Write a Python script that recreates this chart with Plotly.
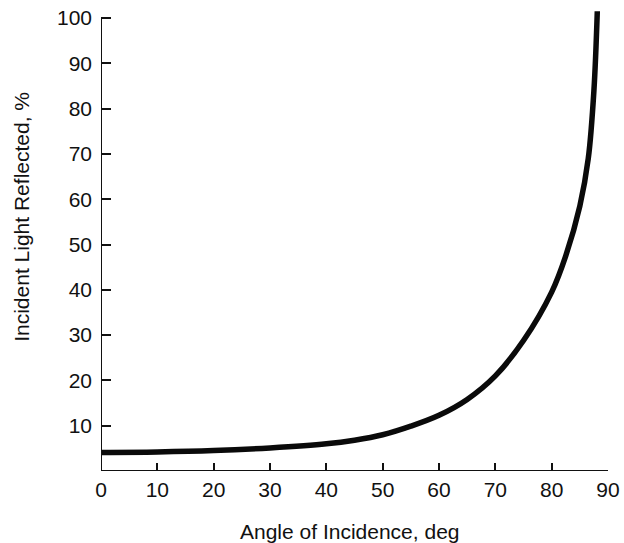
import plotly.graph_objects as go

# Data
angle_deg = [0, 10, 20, 30, 40, 45, 50, 55, 60, 65, 70, 75, 80, 82.5, 85, 86.5, 87.5, 88.1]
reflected_pct = [4.1, 4.2, 4.5, 5.1, 6.0, 6.8, 8.0, 9.9, 12.3, 15.8, 21.0, 28.8, 39.5, 47.5, 58.5, 69.0, 84.0, 101.5]

x_ticks = [0, 10, 20, 30, 40, 50, 60, 70, 80, 90]
y_ticks = [10, 20, 30, 40, 50, 60, 70, 80, 90, 100]

x_title = "Angle of Incidence, deg"
y_title = "Incident Light Reflected, %"

FONT = "Liberation Sans, Arial, sans-serif"

fig = go.Figure()
fig.add_trace(go.Scatter(
    x=angle_deg, y=reflected_pct, mode="lines",
    line=dict(color="#0a0a0a", width=5.5, shape="spline", smoothing=1.0),
    showlegend=False, hoverinfo="skip",
))

# axis lines
fig.add_shape(type="line", xref="x", yref="y", x0=0, x1=0, y0=0, y1=100,
              line=dict(color="#111", width=2))
fig.add_shape(type="line", xref="x", yref="y", x0=0, x1=90, y0=0, y1=0,
              line=dict(color="#111", width=2))

fig.update_xaxes(
    range=[0, 90], tickvals=x_ticks, ticktext=[str(v) for v in x_ticks],
    ticks="inside", ticklen=8, tickwidth=2, tickcolor="#111",
    showline=False, showgrid=False, zeroline=False, automargin=False,
    tickfont=dict(family=FONT, size=21, color="#111"),
    ticklabelstandoff=4,
)
fig.update_yaxes(
    range=[0, 102], tickvals=y_ticks, ticktext=[str(v) for v in y_ticks],
    ticks="inside", ticklen=10, tickwidth=2, tickcolor="#111",
    showline=False, showgrid=False, zeroline=False, automargin=False,
    tickfont=dict(family=FONT, size=21, color="#111"),
    ticklabelstandoff=8,
)

fig.add_annotation(text=x_title, xref="paper", yref="paper", x=0.491, y=-0.13,
                   xanchor="center", yanchor="middle", showarrow=False,
                   font=dict(family=FONT, size=21, color="#111"))
fig.add_annotation(text=y_title, xref="paper", yref="paper", x=-0.156, y=0.55,
                   xanchor="center", yanchor="middle", showarrow=False, textangle=-90,
                   font=dict(family=FONT, size=21, color="#111"))

fig.update_layout(
    width=624, height=543,
    margin=dict(l=101, r=16, t=9, b=72),
    plot_bgcolor="white", paper_bgcolor="white",
)

fig.write_html("out.html", config={"displayModeBar": False},
               post_script="document.body.style.margin='0';document.body.style.overflow='hidden';")
